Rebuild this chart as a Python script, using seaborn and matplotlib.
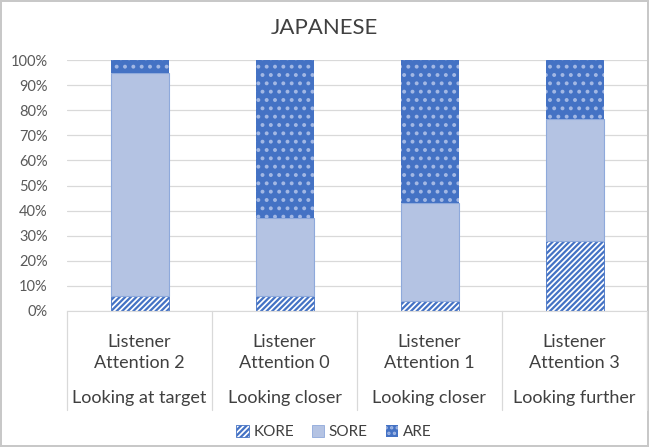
import matplotlib
matplotlib.use("Agg")
import matplotlib.pyplot as plt
import matplotlib.patches as mpatches
import matplotlib.transforms as mtrans
import seaborn as sns
import pandas as pd
import numpy as np

# Data (percent of responses)
cats = ["c2", "c0", "c1", "c3"]
top_labels = ["Listener\nAttention 2", "Listener\nAttention 0", "Listener\nAttention 1", "Listener\nAttention 3"]
bottom_labels = ["Looking at target", "Looking closer", "Looking closer", "Looking further"]
kore = [6, 6, 4, 28]
sore = [89, 31, 39, 48.5]
are = [5, 63, 57, 23.5]

blue = "#4472C4"
light = "#B4C3E3"
dot = "#A3B8E4"

sns.set_style("white")
plt.rcParams["font.family"] = ["Lato", "DejaVu Sans"]
plt.rcParams["hatch.linewidth"] = 1.6

fig = plt.figure(figsize=(6.49, 4.47), dpi=100)
fig.patch.set_edgecolor("#C8C8C8")
fig.patch.set_linewidth(1.5)
ax = fig.add_axes([67 / 649, 136 / 447, 580 / 649, 251 / 447])

df = pd.DataFrame({"cat": cats, "KORE": kore, "SORE": sore, "ARE": are})
b1 = np.array(kore, dtype=float)
b2 = b1 + np.array(sore)

sns.barplot(data=df, x="cat", y="KORE", color="white", width=0.4, ax=ax,
            edgecolor=blue, linewidth=0.6, hatch="//////", saturation=1)
sns.barplot(data=df, x="cat", y="SORE", bottom=b1, color=light, width=0.4, ax=ax,
            edgecolor="#8EA9DB", linewidth=0.8, saturation=1)
sns.barplot(data=df, x="cat", y="ARE", bottom=b2, color=blue, width=0.4, ax=ax,
            edgecolor=dot, linewidth=0, hatch="..", saturation=1)

ax.set_ylim(0, 100)
ax.set_xlim(-0.5, 3.5)
ax.set_yticks(range(0, 101, 10))
ax.set_yticklabels([f"{v}%" for v in range(0, 101, 10)], fontsize=10.5, color="#595959")
ax.yaxis.grid(True, color="#D9D9D9", linewidth=0.9)
ax.set_axisbelow(True)
for s in ["top", "right", "left"]:
    ax.spines[s].set_visible(False)
ax.spines["bottom"].set_color("#D9D9D9")
ax.tick_params(axis="y", length=0, pad=14)
ax.tick_params(axis="x", length=0, pad=30)
ax.set_xlabel("")
ax.set_ylabel("")
ax.set_xticks(range(4))
ax.set_xticklabels(top_labels, fontsize=13, color="#404040", linespacing=1.4,
                   va="center")

# second level category labels and separators
trans = mtrans.blended_transform_factory(ax.transData, ax.transAxes)
for i, lab in enumerate(bottom_labels):
    ax.text(i, -87 / 251, lab, transform=trans, ha="center", va="center",
            fontsize=13, color="#404040")
for xb in np.arange(-0.5, 4, 1):
    ax.plot([xb, xb], [0, -99 / 251], transform=trans, color="#D9D9D9",
            linewidth=0.9, clip_on=False)

fig.text(0.5, 1 - 28 / 447, "JAPANESE", ha="center", va="center",
         fontsize=16, color="#404040")

handles = [
    mpatches.Patch(facecolor="white", edgecolor=blue, hatch="//////", linewidth=0.6, label="KORE"),
    mpatches.Patch(facecolor=light, edgecolor="#8EA9DB", linewidth=0.6, label="SORE"),
    mpatches.Patch(facecolor=blue, edgecolor=dot, hatch="...", linewidth=0, label="ARE"),
]
fig.legend(handles=handles, loc="center", bbox_to_anchor=(334 / 649, 1 - 432 / 447),
           ncol=3, frameon=False, fontsize=11, handlelength=0.8, handleheight=0.8,
           handletextpad=0.3, columnspacing=1.2, labelcolor="#404040")

plt.savefig("out.png", dpi=100)
